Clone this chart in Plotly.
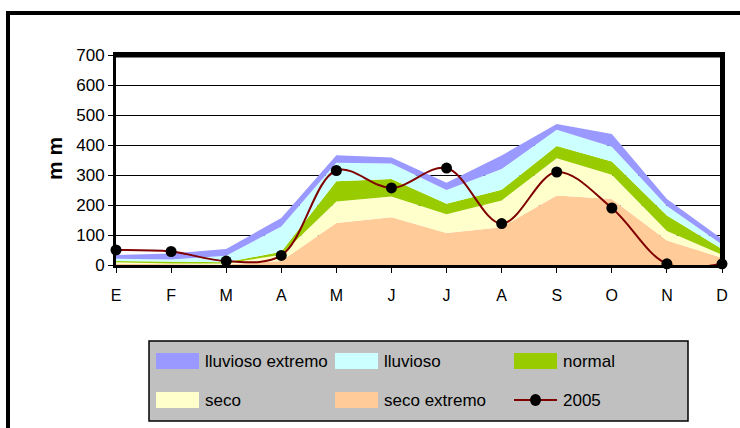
import plotly.graph_objects as go

# months (E..D) and band tops, in mm
months = ['E', 'F', 'M', 'A', 'M', 'J', 'J', 'A', 'S', 'O', 'N', 'D']
seco_extremo = [4, 2, 2, 13, 140, 159, 107, 126, 232, 220, 82, 24]
seco = [9, 5, 5, 34, 212, 228, 169, 215, 356, 301, 113, 34]
normal = [13, 10, 9, 44, 279, 287, 204, 251, 397, 345, 165, 53]
lluvioso = [21, 18, 31, 128, 341, 338, 250, 320, 451, 394, 197, 68]
lluvioso_extremo = [33, 38, 53, 157, 366, 358, 274, 365, 470, 437, 220, 87]
y2005 = [50, 45, 13, 32, 315, 257, 323, 138, 310, 190, 4, 4]

y_ticks = [0, 100, 200, 300, 400, 500, 600, 700]

COLORS = {
    'lluvioso extremo': '#9999FF',
    'lluvioso': '#CCFFFF',
    'normal': '#99CC00',
    'seco': '#FFFFCC',
    'seco extremo': '#FFCC99',
    '2005': '#800000',
}
FONT = 'Arial, Liberation Sans, sans-serif'

W, H = 740, 428
L, R, T, B = 116, 18, 55, 163
x = list(range(len(months)))


def px(v):
    return (v - L) / (W - L - R)


def py(v):
    return (H - B - v) / (H - T - B)


fig = go.Figure()

bands = [
    ('seco extremo', seco_extremo),
    ('seco', seco),
    ('normal', normal),
    ('lluvioso', lluvioso),
    ('lluvioso extremo', lluvioso_extremo),
]
for i, (name, vals) in enumerate(bands):
    fig.add_trace(go.Scatter(
        x=x, y=vals, name=name, mode='lines',
        line=dict(width=0, color=COLORS[name]),
        fill='tozeroy' if i == 0 else 'tonexty',
        fillcolor=COLORS[name],
        hoverinfo='skip'
    ))

fig.add_trace(go.Scatter(
    x=x, y=y2005, name='2005', mode='lines+markers',
    line=dict(color=COLORS['2005'], width=2, shape='spline', smoothing=1),
    marker=dict(color='black', size=11),
    cliponaxis=False
))

# outer chart frame, heavier top/right plot border, custom legend box
shapes = [
    dict(type='rect', xref='paper', yref='paper',
         x0=px(8), x1=px(770), y0=py(460), y1=py(13),
         line=dict(color='black', width=4), layer='above'),
    dict(type='line', xref='paper', yref='paper', x0=0, x1=1, y0=1, y1=1,
         line=dict(color='black', width=5), layer='above'),
    dict(type='line', xref='paper', yref='paper', x0=1, x1=1, y0=0, y1=1,
         line=dict(color='black', width=4), layer='above'),
    dict(type='rect', xref='paper', yref='paper',
         x0=px(149), x1=px(688), y0=py(421), y1=py(341),
         fillcolor='#C0C0C0', line=dict(color='black', width=1.5), layer='below'),
]
annotations = []
legend_items = [
    ('lluvioso extremo', 156, 361), ('lluvioso', 335, 361), ('normal', 514, 361),
    ('seco', 156, 400), ('seco extremo', 335, 400), ('2005', 514, 400),
]
for name, lx, ly in legend_items:
    if name == '2005':
        shapes.append(dict(type='line', xref='paper', yref='paper',
                           x0=px(lx), x1=px(lx + 43), y0=py(ly), y1=py(ly),
                           line=dict(color=COLORS[name], width=2)))
        shapes.append(dict(type='circle', xref='paper', yref='paper',
                           x0=px(lx + 16), x1=px(lx + 27), y0=py(ly + 6), y1=py(ly - 6),
                           fillcolor='black', line=dict(color='black', width=0)))
    else:
        shapes.append(dict(type='rect', xref='paper', yref='paper',
                           x0=px(lx), x1=px(lx + 43), y0=py(ly + 8), y1=py(ly - 8),
                           fillcolor=COLORS[name], line=dict(width=0)))
    annotations.append(dict(
        text=name, xref='paper', yref='paper', x=px(lx + 47), y=py(ly),
        xanchor='left', yanchor='middle', showarrow=False,
        font=dict(family=FONT, size=17, color='black')
    ))

annotations.append(dict(
    text='<b>m m</b>', xref='paper', yref='paper', x=px(54), y=py(159),
    xanchor='center', yanchor='middle', showarrow=False, textangle=-90,
    font=dict(family=FONT, size=21, color='black')
))

fig.update_layout(
    width=W, height=H,
    margin=dict(l=L, r=R, t=T, b=B),
    paper_bgcolor='white', plot_bgcolor='white',
    showlegend=False,
    font=dict(family=FONT, size=16, color='black'),
    shapes=shapes,
    annotations=annotations,
    xaxis=dict(
        range=[0, len(months) - 1], tickvals=x, ticktext=months,
        showgrid=False, zeroline=False,
        showline=True, linecolor='black', linewidth=3, mirror=True,
        ticks='outside', ticklen=5, tickcolor='black', tickwidth=1,
        ticklabelstandoff=9,
        tickfont=dict(family=FONT, size=16, color='black')
    ),
    yaxis=dict(
        range=[0, 700], tickvals=y_ticks,
        showgrid=True, gridcolor='black', gridwidth=1, zeroline=False,
        showline=True, linecolor='black', linewidth=3, mirror=True,
        ticks='outside', ticklen=5, tickcolor='black', tickwidth=1,
        tickfont=dict(family=FONT, size=17, color='black')
    ),
)

# page body has a default 8px margin; drop it so the figure sits at the window corner
fig.write_html("out.html", config={'displayModeBar': False},
               post_script="document.body.style.margin='0';")
